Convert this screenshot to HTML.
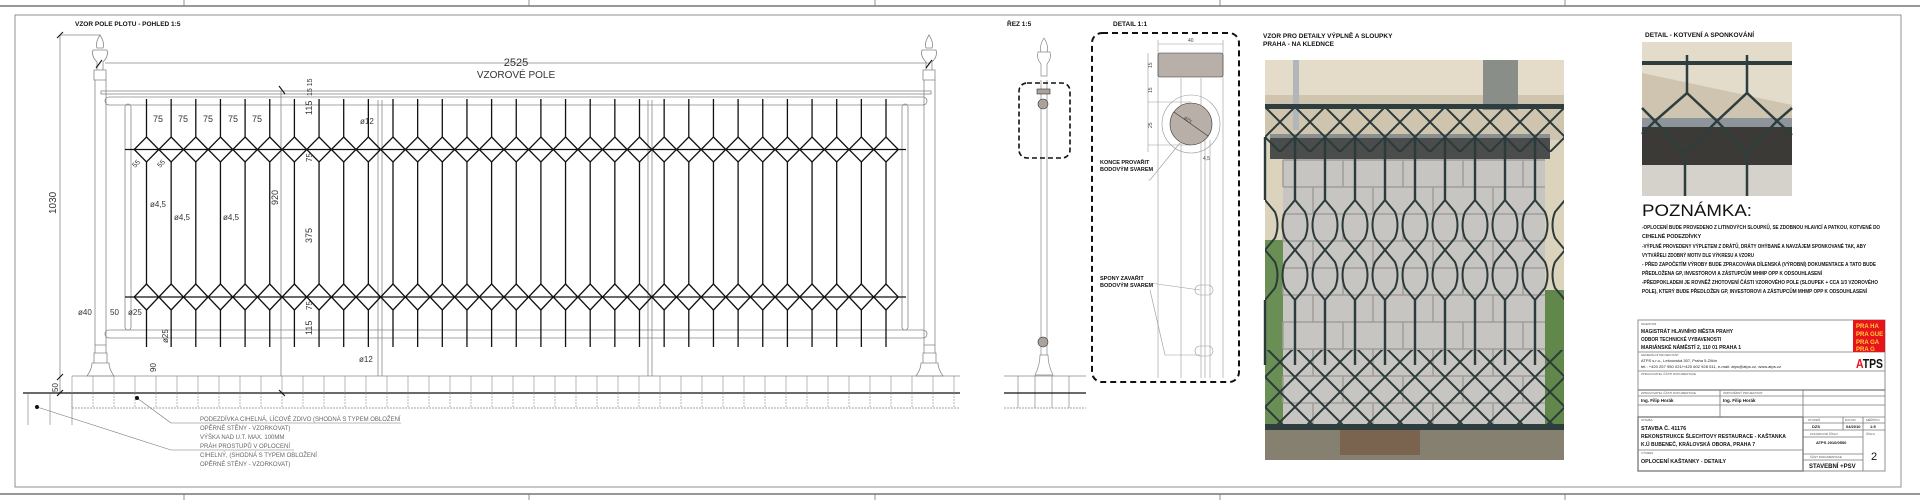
<!DOCTYPE html>
<html><head><meta charset="utf-8"><style>
html,body{margin:0;padding:0;background:#fff;}
svg{display:block;font-family:"Liberation Sans",sans-serif;}
.t{font-weight:bold;fill:#111;}
.g{fill:#555;}
</style></head><body>
<svg id="s" width="1920" height="500" viewBox="0 0 1920 500" xmlns="http://www.w3.org/2000/svg">
<defs>
<pattern id="mesh" x="1265" y="107" width="30" height="30" patternUnits="userSpaceOnUse">
<path d="M0 0 L15 15 L30 0 M0 30 L15 15 L30 30" stroke="#2b3a3a" stroke-width="2" fill="none"/>
</pattern>
<pattern id="loops" x="1250" y="200" width="30" height="50" patternUnits="userSpaceOnUse">
<path d="M15 0 L5 12 Q0 25 5 38 L15 50 M15 0 L25 12 Q30 25 25 38 L15 50" stroke="#2b3a3a" stroke-width="2" fill="none"/>
</pattern>
</defs>
<!-- frame -->
<g stroke="#777" fill="none">
<line x1="0" y1="6" x2="1920" y2="6" stroke-width="1.5"/>
<line x1="0" y1="494" x2="1920" y2="494" stroke-width="1.5"/>
<rect x="15" y="15" width="1886" height="472" stroke-width="0.8"/>
<g stroke-width="0.8"><line x1="184" y1="0" x2="184" y2="6"/><line x1="529" y1="0" x2="529" y2="6"/><line x1="875" y1="0" x2="875" y2="6"/><line x1="1220" y1="0" x2="1220" y2="6"/><line x1="1565" y1="0" x2="1565" y2="6"/>
<line x1="184" y1="494" x2="184" y2="500"/><line x1="529" y1="494" x2="529" y2="500"/><line x1="875" y1="494" x2="875" y2="500"/><line x1="1220" y1="494" x2="1220" y2="500"/><line x1="1565" y1="494" x2="1565" y2="500"/></g>
</g>
<text x="75" y="26" class="t" font-size="6.5">VZOR POLE PLOTU - POHLED 1:5</text>
<text x="1007" y="26" class="t" font-size="6.5">ŘEZ 1:5</text>
<text x="1113" y="26" class="t" font-size="6.5">DETAIL 1:1</text>
<text x="1263" y="38" class="t" font-size="6.5">VZOR PRO DETAILY VÝPLNĚ  A SLOUPKY</text>
<text x="1263" y="46" class="t" font-size="6.5">PRAHA - NA KLEDNCE</text>
<text x="1645" y="37" class="t" font-size="6.5">DETAIL - KOTVENÍ A SPONKOVÁNÍ</text>

<!-- fence drawing -->
<g id="fence" stroke="#888" fill="none" stroke-width="0.8">
<line x1="60" y1="35" x2="60" y2="393"/><line x1="60" y1="35" x2="100" y2="35"/>
<line x1="105" y1="63" x2="930" y2="63"/>
<rect x="101" y="91" width="830" height="3"/>
<rect x="105" y="97" width="822" height="8" rx="4"/>
<rect x="105" y="330" width="822" height="8" rx="4"/>
<rect x="125" y="104" width="6" height="226" rx="3"/><rect x="902" y="104" width="6" height="226" rx="3"/>
<line x1="378" y1="100" x2="378" y2="376"/><line x1="382" y1="100" x2="382" y2="376"/>
<line x1="648" y1="100" x2="648" y2="376"/><line x1="652" y1="100" x2="652" y2="376"/>
<line x1="281" y1="91" x2="281" y2="376"/>
<line x1="95" y1="80" x2="95" y2="345"/><line x1="106" y1="80" x2="106" y2="345"/>
<line x1="924" y1="80" x2="924" y2="345"/><line x1="935" y1="80" x2="935" y2="345"/>
<path d="M100 35 q-5 8 -3 13 h6 q2 -5 -3 -13z M93 50 h14 q2 6 -4 12 v8 h-6 v-8 q-6 -6 -4 -12z M94 70 h12 v10 h-12z"/>
<path d="M929 35 q-5 8 -3 13 h6 q2 -5 -3 -13z M922 50 h14 q2 6 -4 12 v8 h-6 v-8 q-6 -6 -4 -12z M923 70 h12 v10 h-12z"/>
<path d="M95 345 h11 v8 h-11z M94 353 h13 v10 h-13z M92 363 q0 6 -5 13 h27 q-5 -7 -5 -13z"/>
<path d="M924 345 h11 v8 h-11z M923 353 h13 v10 h-13z M921 363 q0 6 -5 13 h27 q-5 -7 -5 -13z"/>
<line x1="72" y1="376" x2="960" y2="376"/>
<line x1="72" y1="408" x2="960" y2="408" stroke-dasharray="2 1"/>
</g>
<g id="bars" stroke="#111" stroke-width="1.3" fill="none"></g>
<line x1="23" y1="393" x2="960" y2="393" stroke="#111" stroke-width="1.3"/>
<g id="pave" stroke="#888" stroke-width="0.6"></g>
<g stroke="#111" stroke-width="1.1">
<line x1="57" y1="38" x2="63" y2="32"/><line x1="57" y1="396" x2="63" y2="390"/><line x1="57" y1="380" x2="63" y2="374"/>
<line x1="279" y1="86" x2="285" y2="94"/><line x1="279" y1="390" x2="285" y2="396"/>
<line x1="96" y1="68" x2="102" y2="60"/><line x1="926" y1="68" x2="932" y2="60"/>
</g>
<g font-size="11" fill="#333" stroke="none">
<text x="516" y="66" text-anchor="middle">2525</text>
<text x="516" y="78" text-anchor="middle" font-size="10">VZOROVÉ POLE</text>
<text transform="translate(56,214) rotate(-90)" font-size="10">1030</text>
<text transform="translate(312,115) rotate(-90)" font-size="9">115</text>
<text transform="translate(312,335) rotate(-90)" font-size="9">115</text>
<text transform="translate(312,243) rotate(-90)" font-size="9">375</text>
<text transform="translate(278,205) rotate(-90)" font-size="9">920</text>
<text transform="translate(312,162) rotate(-90)" font-size="8">75</text>
<text transform="translate(312,310) rotate(-90)" font-size="8">75</text>
<text transform="translate(312,96) rotate(-90)" font-size="7">15 15</text>
<text x="153" y="122" font-size="9">75</text><text x="178" y="122" font-size="9">75</text><text x="203" y="122" font-size="9">75</text><text x="228" y="122" font-size="9">75</text><text x="252" y="122" font-size="9">75</text>
<text x="360" y="124" font-size="8">ø12</text><text x="359" y="362" font-size="8">ø12</text>
<text x="150" y="207" font-size="8">ø4,5</text><text x="174" y="220" font-size="8">ø4,5</text><text x="223" y="220" font-size="8">ø4,5</text>
<text x="78" y="315" font-size="8">ø40</text><text x="110" y="315" font-size="8">50</text><text x="128" y="315" font-size="8">ø25</text>
<text transform="translate(168,343) rotate(-90)" font-size="8">ø25</text>
<text transform="translate(156,372) rotate(-90)" font-size="8">90</text>
<text transform="translate(58,392) rotate(-90)" font-size="8">50</text>
<text transform="translate(135,168) rotate(-45)" font-size="7">55</text><text transform="translate(160,168) rotate(-45)" font-size="7">55</text>
</g>
<g stroke="#777" stroke-width="0.6" fill="none">
<line x1="37" y1="407" x2="171" y2="450"/><line x1="171" y1="450" x2="294" y2="450"/>
<line x1="137" y1="398" x2="171" y2="423"/><line x1="171" y1="423" x2="401" y2="423"/>
<line x1="28" y1="393" x2="28" y2="425"/><line x1="50" y1="393" x2="50" y2="425"/><line x1="72" y1="393" x2="72" y2="425"/>
</g>
<circle cx="37" cy="407" r="2" fill="#111"/><circle cx="137" cy="398" r="2" fill="#111"/>
<g font-size="6" fill="#666">
<text x="200" y="421">PODEZDÍVKA CIHELNÁ, LÍCOVÉ ZDIVO (SHODNÁ S TYPEM OBLOŽENÍ</text>
<text x="200" y="430">OPĚRNÉ STĚNY - VZORKOVAT)</text>
<text x="200" y="439">VÝŠKA NAD U.T. MAX. 100MM</text>
<text x="200" y="448">PRÁH PROSTUPŮ V OPLOCENÍ</text>
<text x="200" y="457">CIHELNÝ, (SHODNÁ S TYPEM OBLOŽENÍ</text>
<text x="200" y="466">OPĚRNÉ STĚNY - VZORKOVAT)</text>
</g>

<!-- section -->
<g stroke="#888" stroke-width="0.7" fill="none">
<path d="M1044 38 q-5 8 -3 14 h6 q2 -6 -3 -14z M1038 52 h12 q2 6 -3 12 v12 h-6 v-12 q-5 -6 -3 -12z"/>
<line x1="1041" y1="80" x2="1041" y2="345"/><line x1="1047" y1="80" x2="1047" y2="345"/>
<path d="M1041 345 h6 v10 h-6z M1040 355 q0 10 -5 20 h18 q-5 -10 -5 -20z"/>
<line x1="1004" y1="376" x2="1086" y2="376"/><line x1="1004" y1="408" x2="1086" y2="408" stroke-dasharray="2 1"/>
<line x1="1018" y1="376" x2="1018" y2="408"/><line x1="1035" y1="376" x2="1035" y2="408"/><line x1="1052" y1="376" x2="1052" y2="408"/><line x1="1069" y1="376" x2="1069" y2="408"/>
</g>
<line x1="1004" y1="393" x2="1086" y2="393" stroke="#111" stroke-width="1.2"/>
<rect x="1037" y="89" width="13" height="5" fill="#aaa29b" stroke="#333" stroke-width="0.6"/>
<circle cx="1043" cy="104" r="5" fill="#aaa29b" stroke="#333" stroke-width="0.6"/>
<circle cx="1043" cy="342" r="5" fill="#aaa29b" stroke="#333" stroke-width="0.6"/>
<rect x="1019" y="83" width="51" height="75" rx="8" fill="none" stroke="#111" stroke-width="1.6" stroke-dasharray="5 3"/>

<!-- detail -->
<rect x="1092" y="33" width="147" height="349" rx="10" fill="none" stroke="#111" stroke-width="2" stroke-dasharray="6 4"/>
<g stroke="#999" stroke-width="0.6" fill="none">
<line x1="1158" y1="40" x2="1158" y2="378"/><line x1="1181" y1="78" x2="1181" y2="378"/><line x1="1201" y1="78" x2="1201" y2="378"/><line x1="1223" y1="40" x2="1223" y2="378"/>
<line x1="1205" y1="140" x2="1205" y2="378"/><line x1="1210" y1="140" x2="1210" y2="378"/>
<circle cx="1191" cy="124" r="29"/>
<line x1="1158" y1="44" x2="1223" y2="44"/>
<line x1="1148" y1="53" x2="1148" y2="152"/>
<line x1="1148" y1="102" x2="1191" y2="102"/><line x1="1148" y1="145" x2="1191" y2="145"/>
<polyline points="1180,143 1150,180 1148,180"/>
<polyline points="1150,290 1165,355 1200,355"/><line x1="1150" y1="283" x2="1200" y2="290"/>
<rect x="1195" y="285" width="18" height="10" rx="5"/><rect x="1195" y="346" width="18" height="10" rx="5"/>
</g>
<rect x="1158" y="53" width="65" height="24" rx="2" fill="#b8b0a8" stroke="#333" stroke-width="0.6"/>
<circle cx="1191" cy="124" r="21" fill="#b8b0a8" stroke="#333" stroke-width="0.6"/>
<line x1="1174" y1="112" x2="1208" y2="136" stroke="#333" stroke-width="0.6"/>
<g font-size="5" fill="#444"><text x="1188" y="42">40</text><text transform="translate(1152,68) rotate(-90)">15</text><text transform="translate(1152,93) rotate(-90)">15</text><text transform="translate(1152,128) rotate(-90)">25</text><text x="1183" y="120" transform="rotate(40 1186 120)">ø25</text><text x="1203" y="160">4,5</text></g>
<g font-size="5.5" class="t"><text x="1100" y="164">KONCE PROVAŘIT</text><text x="1100" y="171">BODOVÝM SVAREM</text><text x="1100" y="280">SPONY ZAVAŘIT</text><text x="1100" y="287">BODOVÝM SVAREM</text></g>

<!-- photo -->
<rect x="1265" y="60" width="299" height="400" fill="#dcd3bd"/>
<rect x="1265" y="60" width="299" height="70" fill="#e4dcc8"/>
<rect x="1265" y="95" width="299" height="45" fill="#cfc5ae"/>
<rect x="1483" y="60" width="35" height="50" fill="#8a8e88"/>
<rect x="1293" y="60" width="6" height="70" fill="#b0b6ba"/>
<rect x="1265" y="240" width="22" height="190" fill="#6a8f55"/>
<rect x="1545" y="290" width="19" height="140" fill="#62874b"/>
<rect x="1283" y="158" width="262" height="270" fill="#c6c5c2"/>
<g id="bricks" stroke="#a09d99" stroke-width="1.5"></g>
<rect x="1270" y="135" width="280" height="24" fill="#4a4d4c"/>
<rect x="1270" y="134" width="280" height="4" fill="#8a8f90"/>
<rect x="1265" y="428" width="299" height="32" fill="#858070"/>
<rect x="1340" y="430" width="80" height="25" fill="#7a6450"/>
<rect x="1265" y="107" width="299" height="45" fill="url(#mesh)"/>
<rect x="1265" y="200" width="299" height="100" fill="url(#loops)"/>
<rect x="1265" y="350" width="299" height="75" fill="url(#mesh)"/>
<g id="pbars" stroke="#2b3a3a" stroke-width="2.4"></g>
<rect x="1265" y="104" width="299" height="5" fill="#2e3d3d"/>
<rect x="1265" y="424" width="299" height="6" fill="#2e3d3d"/>

<!-- small photo -->
<rect x="1642" y="42" width="150" height="154" fill="#e3dccb"/>
<polygon points="1642,73 1792,105 1792,118 1642,118" fill="#cfc4b0"/>
<rect x="1642" y="118" width="150" height="9" fill="#8e959a"/>
<rect x="1642" y="127" width="150" height="38" fill="#3b3a36"/>
<rect x="1642" y="165" width="150" height="31" fill="#d5d2cb"/>
<g stroke="#2e3e3e" stroke-width="2.5" fill="none">
<line x1="1642" y1="63" x2="1792" y2="63" stroke-width="4"/>
<line x1="1687" y1="55" x2="1687" y2="93"/><line x1="1747" y1="55" x2="1747" y2="93"/>
<polyline points="1642,108 1655,121 1642,134"/>
<polyline points="1655,121 1687,93 1717,121 1747,93 1777,121 1792,108"/>
<polyline points="1655,121 1685,153 1717,121 1747,153 1777,121 1792,135"/>
<line x1="1685" y1="153" x2="1685" y2="196"/><line x1="1747" y1="153" x2="1747" y2="196"/>
</g>

<!-- notes -->
<text x="1642" y="216" font-size="17" fill="#111" textLength="110" lengthAdjust="spacingAndGlyphs">POZNÁMKA:</text>
<g class="t" font-size="5.3">
<text x="1642" y="229" textLength="238" lengthAdjust="spacingAndGlyphs">-OPLOCENÍ BUDE PROVEDENO Z LITINOVÝCH SLOUPKŮ, SE ZDOBNOU HLAVICÍ A PATKOU, KOTVENÉ DO</text>
<text x="1642" y="238">CIHELNÉ PODEZDÍVKY</text>
<text x="1642" y="248" textLength="224" lengthAdjust="spacingAndGlyphs">-VÝPLNĚ PROVEDENY VÝPLETEM Z DRÁTŮ, DRÁTY OHÝBANÉ A NAVZÁJEM SPONKOVANÉ TAK, ABY</text>
<text x="1642" y="257" textLength="112" lengthAdjust="spacingAndGlyphs">VYTVÁŘELI ZDOBNÝ MOTIV DLE VÝKRESU A VZORU</text>
<text x="1642" y="266" textLength="234" lengthAdjust="spacingAndGlyphs">- PŘED ZAPOČETÍM VÝROBY BUDE ZPRACOVÁNA DÍLENSKÁ (VÝROBNÍ) DOKUMENTACE A TATO BUDE</text>
<text x="1642" y="275" textLength="180" lengthAdjust="spacingAndGlyphs">PŘEDLOŽENA GP, INVESTOROVI A ZÁSTUPCŮM MHMP OPP K ODSOUHLASENÍ</text>
<text x="1642" y="284" textLength="236" lengthAdjust="spacingAndGlyphs">-PŘEDPOKLADEM JE ROVNĚŽ ZHOTOVENÍ ČÁSTI VZOROVÉHO POLE (SLOUPEK + CCA 1/3 VZOROVÉHO</text>
<text x="1642" y="293" textLength="225" lengthAdjust="spacingAndGlyphs">POLE), KTERÝ BUDE PŘEDLOŽEN GP, INVESTOROVI A ZÁSTUPCŮM MHMP OPP K ODSOUHLASENÍ</text>
</g>

<!-- title block -->
<g stroke="#777" stroke-width="0.8" fill="none">
<rect x="1638" y="320" width="247" height="151"/>
<line x1="1638" y1="352" x2="1885" y2="352"/>
<line x1="1638" y1="371" x2="1885" y2="371"/>
<line x1="1638" y1="390" x2="1885" y2="390" stroke-width="1.3"/>
<line x1="1638" y1="396" x2="1885" y2="396"/>
<line x1="1638" y1="405" x2="1885" y2="405"/>
<line x1="1720" y1="390" x2="1720" y2="417"/><line x1="1803" y1="390" x2="1803" y2="417"/>
<line x1="1638" y1="417" x2="1885" y2="417"/>
<rect x="1638" y="417" width="165" height="54" stroke-width="1.3"/>
<line x1="1638" y1="450" x2="1803" y2="450"/>
<line x1="1843" y1="417" x2="1843" y2="430"/><line x1="1863" y1="417" x2="1863" y2="430"/>
<line x1="1803" y1="423" x2="1885" y2="423"/><line x1="1803" y1="430" x2="1885" y2="430"/>
<line x1="1803" y1="437" x2="1863" y2="437"/><line x1="1863" y1="430" x2="1863" y2="471"/>
<line x1="1803" y1="454" x2="1863" y2="454"/><line x1="1803" y1="460" x2="1863" y2="460"/>
</g>
<rect x="1853" y="320" width="32" height="32" fill="#e8141c"/>
<g font-size="6" fill="#ffcf3a" font-weight="bold"><text x="1856" y="328">PRA HA</text><text x="1856" y="336">PRA GUE</text><text x="1856" y="344">PRA GA</text><text x="1856" y="351">PRA G</text></g>
<text x="1856" y="368" font-size="13" font-weight="bold" fill="#111" textLength="27" lengthAdjust="spacingAndGlyphs"><tspan fill="#e8141c">A</tspan>TPS</text>
<g font-size="3" class="g"><text x="1641" y="325">INVESTOR</text><text x="1641" y="356">GENERÁLNÍ PROJEKTANT</text><text x="1641" y="375">ZPRACOVATEL ČÁSTI DOKUMENTACE</text><text x="1641" y="394">ZPRACOVATEL ČÁSTI DOKUMENTACE</text><text x="1723" y="394">ODPOVĚDNÝ PROJEKTANT</text><text x="1641" y="421">STAVBA</text><text x="1641" y="454">VÝKRES</text><text x="1808" y="421">STUPEŇ</text><text x="1845" y="421">DATUM</text><text x="1866" y="421">MĚŘÍTKO</text><text x="1810" y="435">ZAKÁZKOVÉ ČÍSLO</text><text x="1866" y="435">ČÍSLO</text><text x="1810" y="458">ČÁST DOKUMENTACE</text></g>
<g class="t" font-size="5.5"><text x="1641" y="333" textLength="92" lengthAdjust="spacingAndGlyphs">MAGISTRÁT HLAVNÍHO MĚSTA PRAHY</text><text x="1641" y="341" textLength="80" lengthAdjust="spacingAndGlyphs">ODBOR TECHNICKÉ VYBAVENOSTI</text><text x="1641" y="349" textLength="100" lengthAdjust="spacingAndGlyphs">MARIÁNSKÉ NÁMĚSTÍ 2, 110 01 PRAHA 1</text>
<text x="1641" y="402" font-size="4.5">Ing. Filip Horák</text><text x="1723" y="402" font-size="4.5">Ing. Filip Horák</text>
<text x="1641" y="430">STAVBA Č. 41176</text><text x="1641" y="438" textLength="145" lengthAdjust="spacingAndGlyphs">REKONSTRUKCE ŠLECHTOVY RESTAURACE - KAŠTANKA</text><text x="1641" y="446" textLength="114" lengthAdjust="spacingAndGlyphs">K.Ú BUBENEČ, KRÁLOVSKÁ OBORA, PRAHA 7</text><text x="1641" y="463" textLength="85" lengthAdjust="spacingAndGlyphs">OPLOCENÍ KAŠTANKY - DETAILY</text>
<text x="1809" y="468" font-size="6">STAVEBNÍ +PSV</text><text x="1812" y="428" font-size="4">DZS</text><text x="1846" y="428" font-size="4">04/2010</text><text x="1870" y="428" font-size="4">1:5</text><text x="1816" y="444" font-size="4">ATPS 2010/0500</text></g>
<g font-size="4" fill="#222"><text x="1641" y="362">ATPS s.r.o., Lešnovská 307, Praha 5-Zličín</text><text x="1641" y="368" textLength="140" lengthAdjust="spacingAndGlyphs">tel.: +420 257 950 021/+420 602 928 511, e-mail: atps@atps.cz, www.atps.cz</text></g>
<text x="1871" y="460" font-size="11" fill="#111">2</text>
</svg>
<script>
var NS="http://www.w3.org/2000/svg";
function L(g,x1,y1,x2,y2,a){var e=document.createElementNS(NS,"line");e.setAttribute("x1",x1);e.setAttribute("y1",y1);e.setAttribute("x2",x2);e.setAttribute("y2",y2);if(a)for(var k in a)e.setAttribute(k,a[k]);g.appendChild(e);return e;}
var b=document.getElementById("bars");
L(b,125,149.5,906,149.5);L(b,125,297,906,297);
for(var i=0;i<31;i++){var x=146.5+i*24.65,h=12.3;
L(b,x,99,x,137);L(b,x,162,x,284);L(b,x,310,x,347);
[[137,149.5,162],[284,297,310]].forEach(function(r){var p=document.createElementNS(NS,"polygon");p.setAttribute("points",x+","+r[0]+" "+(x+h)+","+r[1]+" "+x+","+r[2]+" "+(x-h)+","+r[1]);b.appendChild(p);});}
var pv=document.getElementById("pave");
for(var x=72;x<=960;x+=21){L(pv,x,376,x,393);L(pv,x,393,x,408,{"stroke-dasharray":"2 1"});}
var br=document.getElementById("bricks");
for(var r=0;r<10;r++){var y=160+r*27;L(br,1283,y,1545,y);for(var x=1283+(r%2?30:0);x<1545;x+=60)L(br,x,y,x,y+27);}
var pb=document.getElementById("pbars");
for(var x=1265;x<1564;x+=30){L(pb,x,137,x,200);L(pb,x,300,x,365);}
</script>
</body></html>
